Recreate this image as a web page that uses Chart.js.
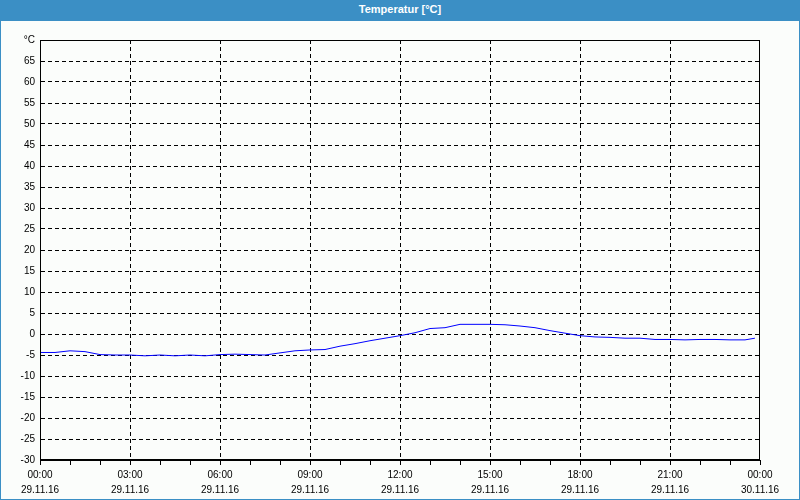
<!DOCTYPE html>
<html>
<head>
<meta charset="utf-8">
<script src="https://cdn.jsdelivr.net/npm/chart.js@4/dist/chart.umd.min.js"></script>
<style>
  html, body { margin: 0; padding: 0; }
  body { width: 800px; height: 500px; position: relative; background: #fbfdfb; overflow: hidden; }
  #frame { position: absolute; left: 0; top: 0; width: 798px; height: 498px; border: 1px solid #3b8fc5; }
  #head { position: absolute; left: 0; top: 0; width: 800px; height: 21px; background: #3b8fc5;
          color: #fff; font: bold 11px "Liberation Sans", Arial, sans-serif; text-align: center; line-height: 19px; }
  #wrap { position: absolute; left: 0; top: 20px; width: 800px; height: 480px; }
</style>
</head>
<body>
<div id="wrap"><canvas id="chart"></canvas></div>
<div id="frame"></div>
<div id="head">Temperatur [°C]</div>
<script>
// hours since 29.11.16 00:00
const hours = [0, 0.5, 1, 1.5, 2, 2.5, 3, 3.5, 4, 4.5, 5, 5.5, 6, 6.5, 7, 7.5, 8, 8.5, 9, 9.5,
  10, 10.5, 11, 11.5, 12, 12.5, 13, 13.5, 14, 14.5, 15, 15.5, 16, 16.5, 17, 17.5, 18, 18.5,
  19, 19.5, 20, 20.5, 21, 21.5, 22, 22.5, 23, 23.5, 23.83]
const temps = [-4.4, -4.4, -4.0, -4.2, -4.9, -5.0, -5.0, -5.2, -5.0, -5.2, -5.0, -5.2, -4.9, -4.8,
  -4.9, -5.0, -4.5, -4.0, -3.8, -3.7, -2.9, -2.3, -1.6, -1.0, -0.4, 0.3, 1.3, 1.5, 2.3, 2.3, 2.3,
  2.2, 1.9, 1.5, 0.8, 0.2, -0.4, -0.7, -0.8, -1.0, -1.0, -1.3, -1.3, -1.4, -1.3, -1.3, -1.4, -1.4, -1.0]
const timeLabels = ['00:00', '03:00', '06:00', '09:00', '12:00', '15:00', '18:00', '21:00', '00:00']
const dateLabels = ['29.11.16', '29.11.16', '29.11.16', '29.11.16', '29.11.16', '29.11.16', '29.11.16', '29.11.16', '30.11.16']
const yMin = -30, yMax = 70, yStep = 5
const yUnit = '°C'

const points = hours.map((h, i) => ({x: h, y: temps[i]}))

const framePlugin = {
  id: 'frame',
  afterDraw(chart) {
    const {ctx, chartArea: a} = chart
    ctx.save()
    ctx.strokeStyle = '#000'
    ctx.lineWidth = 1
    ctx.strokeRect(Math.round(a.left) + 0.5, Math.round(a.top) + 0.5,
      Math.round(a.right - a.left) - 1, Math.round(a.bottom - a.top) - 1)
    ctx.restore()
  }
}

Chart.defaults.font.family = '"Liberation Sans", Arial, sans-serif'
Chart.defaults.font.size = 10
Chart.defaults.color = '#000'

new Chart(document.getElementById('chart'), {
  type: 'line',
  data: {
    datasets: [{
      data: points,
      borderColor: '#0000ff',
      borderWidth: 1,
      pointRadius: 0,
      tension: 0,
      fill: false
    }]
  },
  options: {
    responsive: true,
    maintainAspectRatio: false,
    animation: false,
    layout: {padding: {top: 20, right: 40, left: 0, bottom: 0}},
    plugins: {legend: {display: false}, tooltip: {enabled: false}},
    scales: {
      x: {
        type: 'linear',
        min: 0,
        max: 24,
        afterFit(s) { s.height = 40 },
        afterBuildTicks(s) {
          s.ticks = []
          for (let h = 0; h <= 24; h++) s.ticks.push({value: h})
        },
        ticks: {
          autoSkip: false,
          maxRotation: 0,
          padding: 2,
          font: {lineHeight: 1.55},
          callback: v => v % 3 === 0 ? [timeLabels[v / 3], dateLabels[v / 3]] : ''
        },
        grid: {
          color: c => (c.tick && c.tick.value % 3 === 0 && c.tick.value > 0 && c.tick.value < 24) ? '#000' : 'rgba(0,0,0,0)',
          tickColor: '#000',
          tickLength: 5,
          lineWidth: 1
        },
        border: {display: true, color: '#000', dash: [4, 3]}
      },
      y: {
        min: yMin,
        max: yMax,
        afterFit(s) { s.width = 40 },
        ticks: {
          stepSize: yStep,
          padding: 5,
          callback: v => v === yMax ? yUnit : v
        },
        grid: {
          color: '#000',
          drawTicks: false,
          lineWidth: 1
        },
        border: {display: true, color: '#000', dash: [4, 3]}
      }
    }
  },
  plugins: [framePlugin]
})
</script>
</body>
</html>
